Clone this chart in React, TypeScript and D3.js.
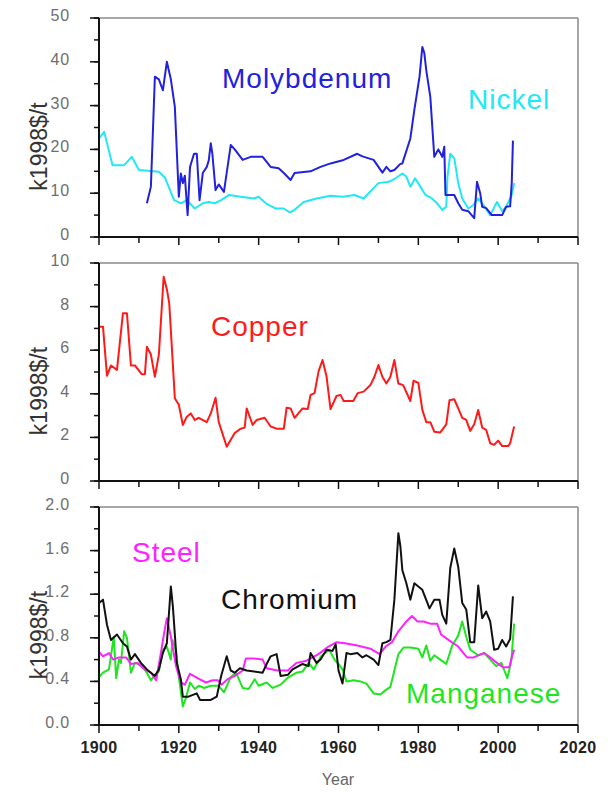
import React from "react";
import * as d3 from "d3";

type P = [number, number];

const molybdenum: P[] = [[1912,7.7],[1913,11.5],[1914,36.6],[1915,36],[1916,33.5],[1917,40],[1918,36],[1919,29.7],[1920,9.2],[1920.5,14.5],[1921,12.3],[1921.5,14],[1922.2,5.0],[1922.8,16],[1923.8,19],[1924.5,19],[1925.2,8.4],[1926,14.6],[1927,16],[1927.5,17.5],[1928,21.4],[1928.4,19],[1929.2,10.7],[1930,12],[1931.3,10.3],[1933,21],[1934,20],[1936,17.6],[1938,18.3],[1941,18.3],[1943,16],[1945,15.7],[1946.3,14.6],[1948,13],[1949,14.6],[1953,15],[1955.5,16],[1958,16.8],[1961.3,17.6],[1964.7,19],[1966,18.4],[1968.8,17.6],[1971,14.7],[1972,16],[1973,15],[1974,15.3],[1975.5,16.7],[1976,16.8],[1978,22.5],[1979,29],[1980.3,36.6],[1981,43.4],[1981.5,42],[1982,38],[1983,32],[1984,18.3],[1985,20],[1986,18.3],[1986.5,20.6],[1986.8,9.6],[1989,9.6],[1990,7.7],[1991,6.2],[1992.5,5.9],[1994,4.3],[1994.7,12.6],[1995.5,10],[1996,6.9],[1997,6.6],[1998.4,5],[2001,5],[2002,6.9],[2003,7],[2003.4,12.3],[2003.7,22]];

const nickel: P[] = [[1900,22.5],[1901.3,24],[1903.4,16.4],[1906.3,16.4],[1908.2,18.3],[1910,15.3],[1915,14.9],[1916.5,13.6],[1918.8,8.4],[1920.5,7.7],[1922,8.4],[1924,6.5],[1926,7.7],[1927.5,8],[1929,7.7],[1930.6,8.4],[1932.6,9.6],[1935.5,9.2],[1938.8,8.8],[1940,9.2],[1941.8,7.7],[1944.3,6.5],[1946.3,6.5],[1947.8,5.6],[1949,6.2],[1951.3,8],[1954.5,8.8],[1958,9.4],[1961,9.2],[1964,9.6],[1966.3,8.8],[1970,12.3],[1972.6,12.6],[1974.3,13.4],[1976,14.5],[1977,13.8],[1978,11.5],[1979.2,13.4],[1980.5,11.5],[1981.8,9.6],[1983.4,8.8],[1984.7,7.7],[1986,6.2],[1987,6.9],[1987.3,13.7],[1988,19],[1989,18],[1990,12.3],[1991,8.8],[1992.5,6.5],[1993.8,7.3],[1995,8.8],[1996.3,7.3],[1998,5],[1999.7,8],[2001,5.9],[2002,6.9],[2003.4,9.6],[2004,12.3]];

const copper: P[] = [[1900,7.08],[1901,7.08],[1902,4.83],[1903,5.3],[1904.5,5.1],[1906,7.7],[1907,7.7],[1908,5.3],[1909,5.3],[1910.7,4.9],[1911.5,4.9],[1912,6.16],[1913,5.8],[1914,4.78],[1915,5.8],[1916.2,9.37],[1917,8.8],[1917.6,8.15],[1919,3.8],[1920,3.5],[1921,2.57],[1922,2.95],[1923,3.1],[1924,2.8],[1925,2.9],[1927,2.7],[1928,3.1],[1929.2,3.82],[1930,2.7],[1932,1.57],[1934,2.2],[1935.5,2.4],[1936.5,2.45],[1937,3.33],[1938.5,2.57],[1939.5,2.8],[1941.5,2.9],[1943,2.5],[1944.5,2.4],[1946.3,2.4],[1947,3.36],[1948,3.33],[1949,2.9],[1951,3.33],[1952.3,3.3],[1953,3.95],[1954,4.03],[1955,5.03],[1956,5.55],[1957,4.8],[1958,3.3],[1959.5,3.9],[1960.5,3.95],[1961.3,3.67],[1963.7,3.67],[1964.8,4.03],[1966.3,4.1],[1968,4.4],[1969,4.78],[1970,5.32],[1971,4.78],[1972,4.47],[1973,4.78],[1974,5.55],[1975,4.47],[1976.2,4.4],[1978,3.67],[1978.8,4.6],[1980,4.5],[1981,3.26],[1982,2.7],[1983,2.7],[1984,2.26],[1985.5,2.23],[1987,2.6],[1987.8,3.7],[1989,3.75],[1990,3.33],[1991,2.9],[1992,2.8],[1993,2.3],[1994,2.6],[1995,3.26],[1996,2.45],[1997,2.35],[1998,1.73],[1999,1.66],[2000,1.85],[2001,1.6],[2002.5,1.6],[2003,1.73],[2004,2.5]];

const chromium: P[] = [[1900,1.12],[1901,1.15],[1902,0.92],[1903,0.78],[1904.5,0.83],[1906,0.75],[1907,0.72],[1908,0.6],[1909,0.65],[1910.5,0.57],[1912,0.51],[1913,0.48],[1914,0.45],[1915,0.51],[1916,0.66],[1917,0.75],[1918,1.27],[1918.5,1.09],[1919.5,0.57],[1920.5,0.42],[1921,0.26],[1922.4,0.26],[1924.5,0.29],[1925.3,0.23],[1928,0.23],[1929.5,0.26],[1930.6,0.45],[1932,0.63],[1933,0.5],[1934,0.48],[1935.3,0.52],[1937,0.5],[1941,0.48],[1942,0.56],[1943,0.63],[1944.5,0.65],[1945.5,0.45],[1947.3,0.46],[1948.5,0.51],[1950,0.54],[1951,0.56],[1952.5,0.54],[1953,0.66],[1954.5,0.57],[1955.5,0.6],[1957,0.69],[1958.5,0.68],[1959.3,0.74],[1960,0.5],[1961,0.38],[1962,0.66],[1963,0.65],[1964.7,0.66],[1966,0.62],[1967,0.64],[1968.8,0.6],[1970,0.55],[1971,0.75],[1972,0.76],[1973,0.78],[1974,1.15],[1975,1.76],[1975.5,1.64],[1976,1.42],[1977,1.3],[1978,1.15],[1979,1.3],[1980,1.27],[1981,1.24],[1982.8,1.07],[1984,1.15],[1985.3,1.15],[1986,1.01],[1987,0.93],[1988,1.44],[1989,1.62],[1990,1.45],[1991,1.12],[1992,1.06],[1993,0.76],[1994,0.76],[1995,1.28],[1996,0.98],[1997,1.04],[1998,0.95],[1999,0.69],[2000,0.7],[2001,0.78],[2002,0.72],[2003,0.79],[2003.7,1.18]];

const steel: P[] = [[1900,0.67],[1901,0.63],[1902.5,0.66],[1903.5,0.6],[1905,0.62],[1906.8,0.62],[1908,0.56],[1909.6,0.57],[1911.5,0.51],[1913,0.48],[1914.3,0.41],[1915.5,0.66],[1916.3,0.84],[1917,0.98],[1918,0.81],[1919.3,0.54],[1920.5,0.39],[1921.5,0.37],[1922.8,0.47],[1924.7,0.43],[1926.8,0.39],[1928.5,0.41],[1929.8,0.41],[1930.7,0.37],[1932.2,0.42],[1934,0.45],[1936,0.5],[1936.8,0.61],[1938.8,0.61],[1941,0.6],[1942,0.52],[1944.7,0.5],[1947.3,0.5],[1949.5,0.57],[1952,0.59],[1955,0.65],[1957.5,0.72],[1959.5,0.76],[1961.6,0.75],[1964.7,0.73],[1968,0.7],[1970.3,0.65],[1971.8,0.72],[1973.4,0.76],[1975,0.86],[1977,0.95],[1978.4,1.0],[1979.8,0.95],[1981.3,0.95],[1983,0.93],[1984.7,0.93],[1985.7,0.83],[1986.8,0.8],[1988,0.77],[1990,0.72],[1991.3,0.66],[1992.2,0.62],[1993.8,0.62],[1996.5,0.66],[1998,0.62],[1999.7,0.57],[2001.2,0.53],[2002.8,0.53],[2003.4,0.62],[2004,0.69]];

const manganese: P[] = [[1900,0.44],[1901,0.48],[1902.5,0.51],[1903.7,0.81],[1904.3,0.43],[1905,0.6],[1905.5,0.57],[1906.3,0.86],[1907,0.8],[1908,0.48],[1909,0.57],[1910.5,0.55],[1912,0.48],[1913,0.41],[1914,0.46],[1915,0.49],[1916,0.69],[1917,0.72],[1918,0.6],[1918.4,0.78],[1919.3,0.68],[1920,0.44],[1921,0.17],[1921.8,0.25],[1922.8,0.39],[1924,0.33],[1925,0.36],[1926.3,0.34],[1928,0.36],[1930,0.36],[1931.3,0.3],[1933,0.44],[1934.3,0.48],[1936,0.34],[1937.5,0.33],[1939,0.42],[1940,0.36],[1942,0.39],[1943.5,0.34],[1945.5,0.37],[1947.5,0.44],[1949.5,0.48],[1951,0.49],[1952.5,0.57],[1953.8,0.51],[1955.6,0.63],[1957.7,0.69],[1959,0.6],[1960,0.56],[1961,0.51],[1962,0.4],[1963.8,0.41],[1965.5,0.4],[1967,0.38],[1968.8,0.29],[1970.5,0.28],[1971.8,0.32],[1973,0.35],[1974,0.5],[1975,0.65],[1976.3,0.71],[1978,0.71],[1980,0.7],[1981,0.62],[1982,0.73],[1983,0.59],[1984,0.64],[1985.5,0.6],[1987,0.56],[1988.5,0.73],[1990,0.82],[1991,0.95],[1992,0.81],[1993,0.69],[1995,0.64],[1996.5,0.66],[1998,0.6],[1999.5,0.54],[2000.8,0.57],[2002.3,0.43],[2003.3,0.59],[2004,0.93]];

const xMajorTicks = [1900, 1920, 1940, 1960, 1980, 2000, 2020];
const xMinorTicks = [1910, 1930, 1950, 1970, 1990, 2010];
const topTicks = [0, 10, 20, 30, 40, 50];
const midTicks = [0, 2, 4, 6, 8, 10];
const botTicks = [0, 0.4, 0.8, 1.2, 1.6, 2.0];

const FONT = "'Liberation Sans', Arial, sans-serif";
const LEFT = 99;
const RIGHT = 578;

type Series = { data: P[]; color: string; label: string; lx: number; ly: number };

function Panel(props: {
  top: number; bottom: number; max: number; majors: number[]; minorStep: number;
  fmt: (v: number) => string; series: Series[]; showX: boolean;
}) {
  const { top, bottom, max, majors, minorStep, fmt, series, showX } = props;
  const x = d3.scaleLinear().domain([1900, 2020]).range([LEFT, RIGHT]);
  const y = d3.scaleLinear().domain([0, max]).range([bottom, top]);
  const minors = d3.range(0, max + minorStep / 2, minorStep);
  const line = d3.line<P>().x((d) => x(d[0])).y((d) => y(d[1]));
  return (
    <g>
      {series.map((s, i) => (
        <path key={i} d={line(s.data) || ""} fill="none" stroke={s.color} strokeWidth={2} strokeLinejoin="round" />
      ))}
      <line x1={LEFT} x2={RIGHT} y1={top} y2={top} stroke="#8a8a8a" strokeWidth={1.5} />
      <line x1={RIGHT} x2={RIGHT} y1={top} y2={bottom} stroke="#8a8a8a" strokeWidth={1.5} />
      <line x1={LEFT} x2={LEFT} y1={top} y2={bottom} stroke="#111" strokeWidth={2} />
      <line x1={LEFT} x2={RIGHT} y1={bottom} y2={bottom} stroke="#111" strokeWidth={2} />
      {minors.map((v, i) => (
        <line key={"m" + i} x1={LEFT - 5} x2={LEFT} y1={y(v)} y2={y(v)} stroke="#111" strokeWidth={1.5} />
      ))}
      {majors.map((v, i) => (
        <g key={"M" + i}>
          <line x1={LEFT - 9} x2={LEFT} y1={y(v)} y2={y(v)} stroke="#111" strokeWidth={1.5} />
          <text x={70} y={y(v) + 3} textAnchor="end" fontFamily={FONT} fontSize={16} letterSpacing={0.8} fill="#6e6e6e">{fmt(v)}</text>
        </g>
      ))}
      {xMajorTicks.map((t, i) => (
        <g key={"x" + i}>
          <line x1={x(t)} x2={x(t)} y1={bottom} y2={bottom + 8} stroke="#111" strokeWidth={1.5} />
          {showX && (
            <text x={x(t)} y={753} textAnchor="middle" fontFamily={FONT} fontSize={16} fontWeight="bold" letterSpacing={0.4} fill="#222">{t}</text>
          )}
        </g>
      ))}
      {xMinorTicks.map((t, i) => (
        <line key={"xm" + i} x1={x(t)} x2={x(t)} y1={bottom} y2={bottom + 6} stroke="#111" strokeWidth={1.5} />
      ))}
      <text transform={`translate(47,${(top + bottom) / 2 + 19}) rotate(-90)`} textAnchor="middle" fontFamily={FONT} fontSize={23} fill="#333">k1998$/t</text>
      {series.map((s, i) => (
        <text key={"l" + i} x={s.lx} y={s.ly} fontFamily={FONT} fontSize={28} letterSpacing={1} fill={s.color}>{s.label}</text>
      ))}
    </g>
  );
}

export default function App() {
  return (
    <svg width={608} height={792} style={{ position: "absolute", left: 0, top: 0, background: "#fff" }}>
      <rect width={608} height={792} fill="#fff" />
      <Panel top={18} bottom={237} max={50} majors={topTicks} minorStep={5} fmt={(v) => String(v)} showX={false}
        series={[
          { data: nickel, color: "#22e8f6", label: "Nickel", lx: 468, ly: 109 },
          { data: molybdenum, color: "#2222dd", label: "Molybdenum", lx: 222, ly: 88 },
        ]} />
      <Panel top={263} bottom={481} max={10} majors={midTicks} minorStep={1} fmt={(v) => String(v)} showX={false}
        series={[{ data: copper, color: "#ff1a1a", label: "Copper", lx: 211, ly: 336 }]} />
      <Panel top={507} bottom={725} max={2} majors={botTicks} minorStep={0.2} fmt={(v) => v.toFixed(1)} showX={true}
        series={[
          { data: manganese, color: "#1ee61e", label: "Manganese", lx: 406, ly: 703 },
          { data: steel, color: "#ff22ff", label: "Steel", lx: 132, ly: 562 },
          { data: chromium, color: "#111", label: "Chromium", lx: 221, ly: 609 },
        ]} />
      <text x={338} y={785} textAnchor="middle" fontFamily={FONT} fontSize={16} fill="#666">Year</text>
    </svg>
  );
}
